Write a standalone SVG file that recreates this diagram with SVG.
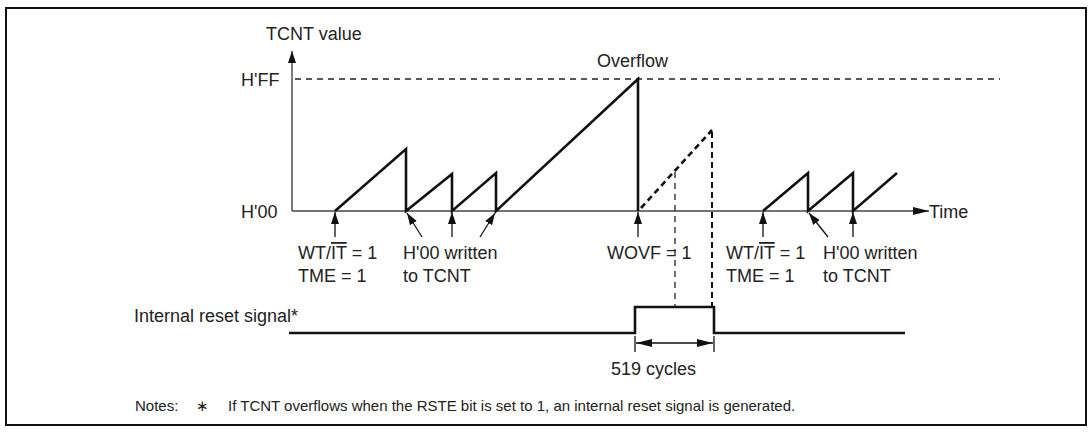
<svg xmlns="http://www.w3.org/2000/svg" width="1092" height="432" viewBox="0 0 1092 432">
<defs>
<marker id="ah" viewBox="0 0 12 10" refX="12" refY="5" markerWidth="12" markerHeight="10" markerUnits="userSpaceOnUse" orient="auto"><path d="M0,1 L12,5 L0,9 Z" fill="#111"/></marker>
<marker id="ahs" viewBox="0 0 16 10" refX="16" refY="5" markerWidth="16" markerHeight="10" markerUnits="userSpaceOnUse" orient="auto-start-reverse"><path d="M0,1 L16,5 L0,9 Z" fill="#111"/></marker>
<style>
text{font-family:"Liberation Sans",Arial,sans-serif;font-size:18px;fill:#222}
.note{font-size:15px}
.axis{stroke:#444;stroke-width:1.4;fill:none}
.wave{stroke:#111;stroke-width:2.6;fill:none;stroke-linejoin:miter}
.dwave{stroke:#111;stroke-width:2.6;fill:none;stroke-dasharray:6,4}
.thin{stroke:#111;stroke-width:1.3;fill:none}
.dash{stroke:#222;stroke-width:1.3;fill:none;stroke-dasharray:6,5}
.dashb{stroke:#111;stroke-width:2;fill:none;stroke-dasharray:6,4}
</style>
</defs>
<rect x="6" y="8" width="1080" height="417" fill="#fff" stroke="#111" stroke-width="2"/>

<g id="axes">
<line class="axis" x1="292" y1="211" x2="292" y2="51" marker-end="url(#ah)"/>
<line class="axis" x1="292" y1="211" x2="929" y2="211" marker-end="url(#ahs)"/>
<line class="dash" x1="295" y1="79" x2="1000" y2="79"/>
<text x="266" y="40">TCNT value</text>
<text x="241" y="86">H'FF</text>
<text x="241" y="218">H'00</text>
<text x="929" y="218">Time</text>
</g>

<g id="tcnt-wave">
<path class="wave" d="M335,211 L406,149 L406,211 L452,174 L452,211 L496,173 L496,211 L638,79 L638,211"/>
<path class="dwave" d="M641,208 L712,130"/>
<path class="wave" d="M763,211 L808,173 L808,211 L853,173 L853,211 L897,173"/>
<text x="597" y="67">Overflow</text>
</g>

<g id="reset-signal">
<text x="134" y="322">Internal reset signal*</text>
<path class="wave" d="M289,333 L635,333 L635,307 L714,307 L714,333 L905,333"/>
</g>

<g id="connectors">
<line class="dashb" x1="712" y1="132" x2="712" y2="306"/>
<line class="dash" x1="675" y1="172" x2="675" y2="307"/>
<line class="thin" x1="335" y1="237" x2="335" y2="212" marker-end="url(#ah)"/>
<line class="thin" x1="422" y1="237" x2="407" y2="213" marker-end="url(#ah)"/>
<line class="thin" x1="452" y1="237" x2="452" y2="212" marker-end="url(#ah)"/>
<line class="thin" x1="480" y1="237" x2="495" y2="213" marker-end="url(#ah)"/>
<line class="thin" x1="638" y1="237" x2="638" y2="212" marker-end="url(#ah)"/>
<line class="thin" x1="763" y1="237" x2="763" y2="212" marker-end="url(#ah)"/>
<line class="thin" x1="828" y1="237" x2="809" y2="213" marker-end="url(#ah)"/>
<line class="thin" x1="853" y1="237" x2="853" y2="212" marker-end="url(#ah)"/>
<line class="thin" x1="635" y1="336" x2="635" y2="352"/>
<line class="thin" x1="714" y1="336" x2="714" y2="352"/>
<line class="thin" x1="636" y1="343" x2="713" y2="343" marker-start="url(#ahs)" marker-end="url(#ahs)"/>
</g>

<g id="labels">
<text x="298" y="259">WT/<tspan text-decoration="overline">IT</tspan> = 1</text>
<text x="298" y="282">TME = 1</text>
<text x="403" y="259">H'00 written</text>
<text x="403" y="282">to TCNT</text>
<text x="607" y="259">WOVF = 1</text>
<text x="726" y="259">WT/<tspan text-decoration="overline">IT</tspan> = 1</text>
<text x="726" y="282">TME = 1</text>
<text x="823" y="259">H'00 written</text>
<text x="823" y="282">to TCNT</text>
<text x="611" y="375">519 cycles</text>
</g>

<g id="notes">
<text class="note" x="135" y="411">Notes:</text>
<text class="note" x="196" y="411">∗</text>
<text class="note" x="228" y="411">If TCNT overflows when the RSTE bit is set to 1, an internal reset signal is generated.</text>
</g>
</svg>
